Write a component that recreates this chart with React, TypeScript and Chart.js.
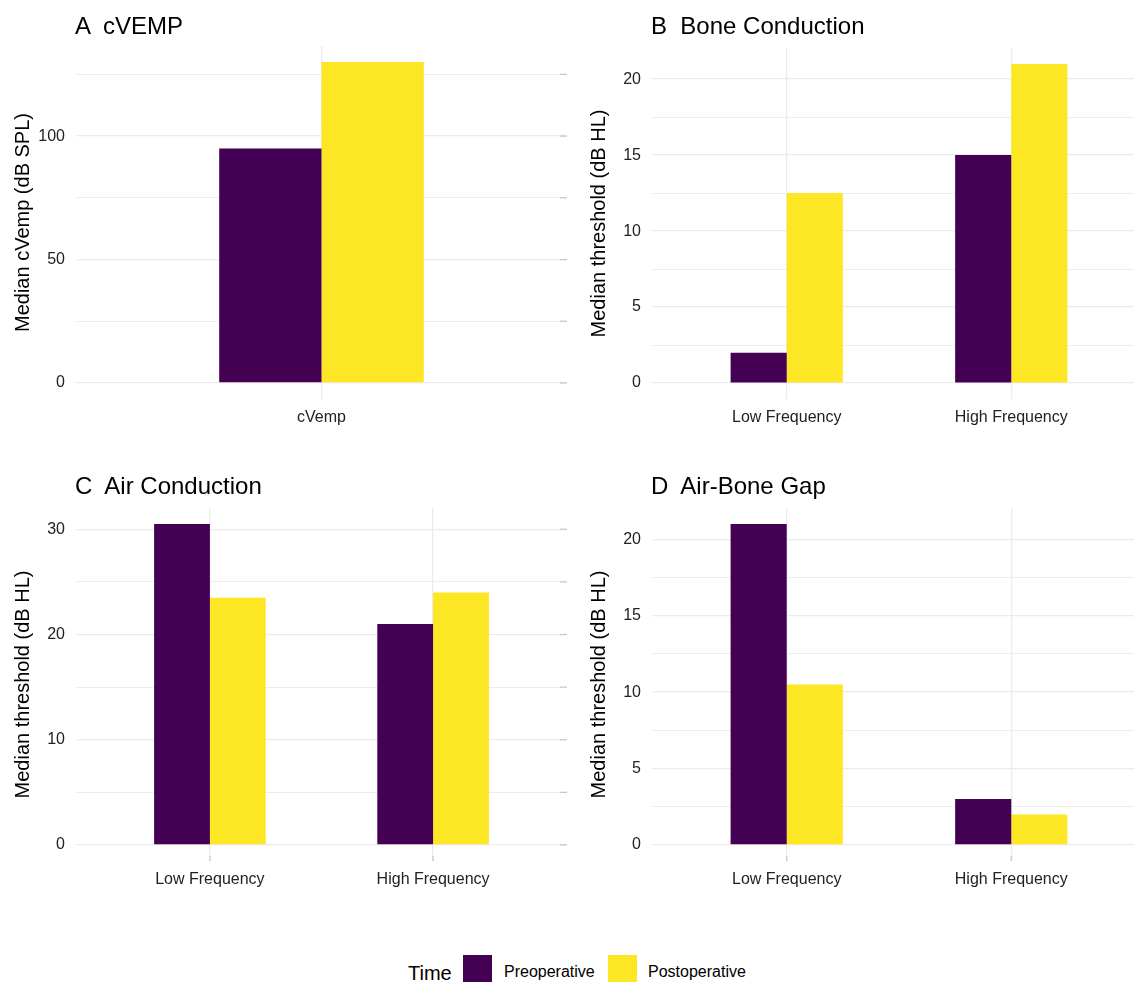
import React, { useEffect, useRef } from "react";
import { Chart, registerables } from "chart.js";

Chart.register(...registerables);

// ---------- data ----------
const seriesNames = ["Preoperative", "Postoperative"];
const seriesColors = ["#440154", "#FDE725"];

const cvempCategories = ["cVemp"];
const cvempPre = [95];
const cvempPost = [130];
const cvempMajorTicks = [0, 50, 100];
const cvempMinorTicks = [25, 75, 125];

const freqCategories = ["Low Frequency", "High Frequency"];

const bonePre = [2, 15];
const bonePost = [12.5, 21];
const boneMajorTicks = [0, 5, 10, 15, 20];
const boneMinorTicks = [2.5, 7.5, 12.5, 17.5];

const airPre = [30.5, 21];
const airPost = [23.5, 24];
const airMajorTicks = [0, 10, 20, 30];
const airMinorTicks = [5, 15, 25];

const gapPre = [21, 3];
const gapPost = [10.5, 2];
const gapMajorTicks = [0, 5, 10, 15, 20];
const gapMinorTicks = [2.5, 7.5, 12.5, 17.5];

const FONT = "'Liberation Sans', Arial, Helvetica, sans-serif";
const GRID = "#EBEBEB";
const TICK_COLOR = "#222222";

type PanelProps = {
  title: string;
  yTitle: string;
  categories: string[];
  pre: number[];
  post: number[];
  major: number[];
  minor: number[];
  left: number;
  top: number;
  width: number;
  height: number;
  padTop: number;
  padRight: number;
  xAxisHeight: number;
  titleTop: number;
  bottomMarks: boolean;
};

function Panel(p: PanelProps) {
  const ref = useRef<HTMLCanvasElement | null>(null);
  useEffect(() => {
    if (!ref.current) return;
    const maxVal = Math.max(...p.pre, ...p.post);
    const nCat = p.categories.length;
    const xMin = 0.4;
    const xMax = nCat + 0.6;
    const catPct = nCat === 1 ? 0.5 / (xMax - xMin) : 0.5;
    const allTicks = [...p.major, ...p.minor].sort((a, b) => a - b);

    const edgeMarks = {
      id: "edgeMarks",
      beforeDatasetsDraw(chart: any) {
        const { ctx, chartArea, scales } = chart;
        ctx.save();
        ctx.strokeStyle = "#C9C9C9";
        ctx.lineWidth = 1.3;
        for (const t of scales.y.ticks) {
          const y = scales.y.getPixelForValue(t.value);
          ctx.beginPath();
          ctx.moveTo(chartArea.right - 7, y);
          ctx.lineTo(chartArea.right, y);
          ctx.stroke();
        }
        if (p.bottomMarks) {
          for (const t of scales.x.ticks) {
            const x = scales.x.getPixelForValue(t.value);
            ctx.beginPath();
            ctx.moveTo(x, chartArea.bottom - 5);
            ctx.lineTo(x, chartArea.bottom);
            ctx.stroke();
          }
        }
        ctx.restore();
      },
    };

    const chart = new Chart(ref.current, {
      type: "bar",
      data: {
        datasets: [
          {
            label: seriesNames[0],
            data: p.pre.map((v, i) => ({ x: i + 1, y: v })),
            backgroundColor: seriesColors[0],
            borderWidth: 0,
            categoryPercentage: catPct,
            barPercentage: 1,
          },
          {
            label: seriesNames[1],
            data: p.post.map((v, i) => ({ x: i + 1, y: v })),
            backgroundColor: seriesColors[1],
            borderWidth: 0,
            categoryPercentage: catPct,
            barPercentage: 1,
          },
        ],
      },
      options: {
        animation: false,
        responsive: false,
        devicePixelRatio: 1,
        layout: { padding: { left: 0, top: p.padTop, right: p.padRight, bottom: 0 } },
        plugins: { legend: { display: false }, tooltip: { enabled: false }, title: { display: false } },
        scales: {
          x: {
            type: "linear",
            offset: false,
            min: xMin,
            max: xMax,
            afterBuildTicks: (s: any) => {
              s.ticks = p.categories.map((_, i) => ({ value: i + 1 }));
            },
            afterFit: (s: any) => {
              s.height = p.xAxisHeight;
            },
            ticks: {
              callback: (v: any) => p.categories[Math.round(Number(v)) - 1] ?? "",
              padding: 9,
              maxRotation: 0,
              autoSkip: false,
              color: TICK_COLOR,
              font: { family: FONT, size: 16 },
            },
            grid: { color: GRID, lineWidth: 1.3, drawTicks: false, offset: false },
            border: { display: false },
          },
          y: {
            type: "linear",
            min: -0.05 * maxVal,
            max: 1.05 * maxVal,
            afterBuildTicks: (s: any) => {
              s.ticks = allTicks.map((v) => ({ value: v }));
            },
            afterFit: (s: any) => {
              s.width = 76;
            },
            ticks: {
              callback: (v: any) => (p.major.includes(Number(v)) ? String(v) : ""),
              padding: 11,
              autoSkip: false,
              color: TICK_COLOR,
              font: { family: FONT, size: 16 },
            },
            grid: {
              color: GRID,
              lineWidth: (ctx: any) => (ctx.tick && p.major.includes(ctx.tick.value) ? 1.3 : 0.9),
              drawTicks: false,
            },
            border: { display: false },
            title: {
              display: true,
              text: p.yTitle,
              color: "#000000",
              font: { family: FONT, size: 20 },
              padding: { top: 11, bottom: 0 },
            },
          },
        },
      },
      plugins: [edgeMarks],
    } as any);
    return () => chart.destroy();
  }, []);
  return (
    <>
      <canvas
        ref={ref}
        width={p.width}
        height={p.height}
        style={{ position: "absolute", left: p.left, top: p.top, width: p.width, height: p.height }}
      />
      <div
        style={{
          position: "absolute",
          left: p.left + 75,
          top: p.titleTop,
          fontFamily: FONT,
          fontSize: 24,
          lineHeight: "24px",
          color: "#000",
          whiteSpace: "pre",
        }}
      >
        {p.title}
      </div>
    </>
  );
}

export default function App() {
  const swatch = (color: string, left: number) => (
    <div style={{ position: "absolute", left, top: 955, width: 29, height: 29, background: color }} />
  );
  return (
    <div
      style={{
        position: "fixed",
        left: 0,
        top: 0,
        width: 1134,
        height: 982,
        overflow: "hidden",
        background: "#ffffff",
      }}
    >
      <Panel
        title={"A  cVEMP"}
        yTitle="Median cVemp (dB SPL)"
        categories={cvempCategories}
        pre={cvempPre}
        post={cvempPost}
        major={cvempMajorTicks}
        minor={cvempMinorTicks}
        left={0}
        top={0}
        width={575}
        height={440}
        padTop={46}
        padRight={8}
        xAxisHeight={41}
        titleTop={14}
        bottomMarks={false}
      />
      <Panel
        title={"B  Bone Conduction"}
        yTitle="Median threshold (dB HL)"
        categories={freqCategories}
        pre={bonePre}
        post={bonePost}
        major={boneMajorTicks}
        minor={boneMinorTicks}
        left={576}
        top={0}
        width={570}
        height={440}
        padTop={48}
        padRight={0}
        xAxisHeight={41}
        titleTop={14}
        bottomMarks={false}
      />
      <Panel
        title={"C  Air Conduction"}
        yTitle="Median threshold (dB HL)"
        categories={freqCategories}
        pre={airPre}
        post={airPost}
        major={airMajorTicks}
        minor={airMinorTicks}
        left={0}
        top={440}
        width={575}
        height={460}
        padTop={68}
        padRight={8}
        xAxisHeight={39}
        titleTop={474}
        bottomMarks={true}
      />
      <Panel
        title={"D  Air-Bone Gap"}
        yTitle="Median threshold (dB HL)"
        categories={freqCategories}
        pre={gapPre}
        post={gapPost}
        major={gapMajorTicks}
        minor={gapMinorTicks}
        left={576}
        top={440}
        width={570}
        height={460}
        padTop={68}
        padRight={0}
        xAxisHeight={39}
        titleTop={474}
        bottomMarks={true}
      />
      <div
        style={{
          position: "absolute",
          left: 408,
          top: 963,
          fontFamily: FONT,
          fontSize: 20,
          lineHeight: "20px",
          color: "#000",
        }}
      >
        Time
      </div>
      {swatch(seriesColors[0], 463)}
      <div
        style={{
          position: "absolute",
          left: 504,
          top: 964,
          fontFamily: FONT,
          fontSize: 16,
          lineHeight: "16px",
          color: "#000",
        }}
      >
        {seriesNames[0]}
      </div>
      {swatch(seriesColors[1], 608)}
      <div
        style={{
          position: "absolute",
          left: 648,
          top: 964,
          fontFamily: FONT,
          fontSize: 16,
          lineHeight: "16px",
          color: "#000",
        }}
      >
        {seriesNames[1]}
      </div>
    </div>
  );
}
